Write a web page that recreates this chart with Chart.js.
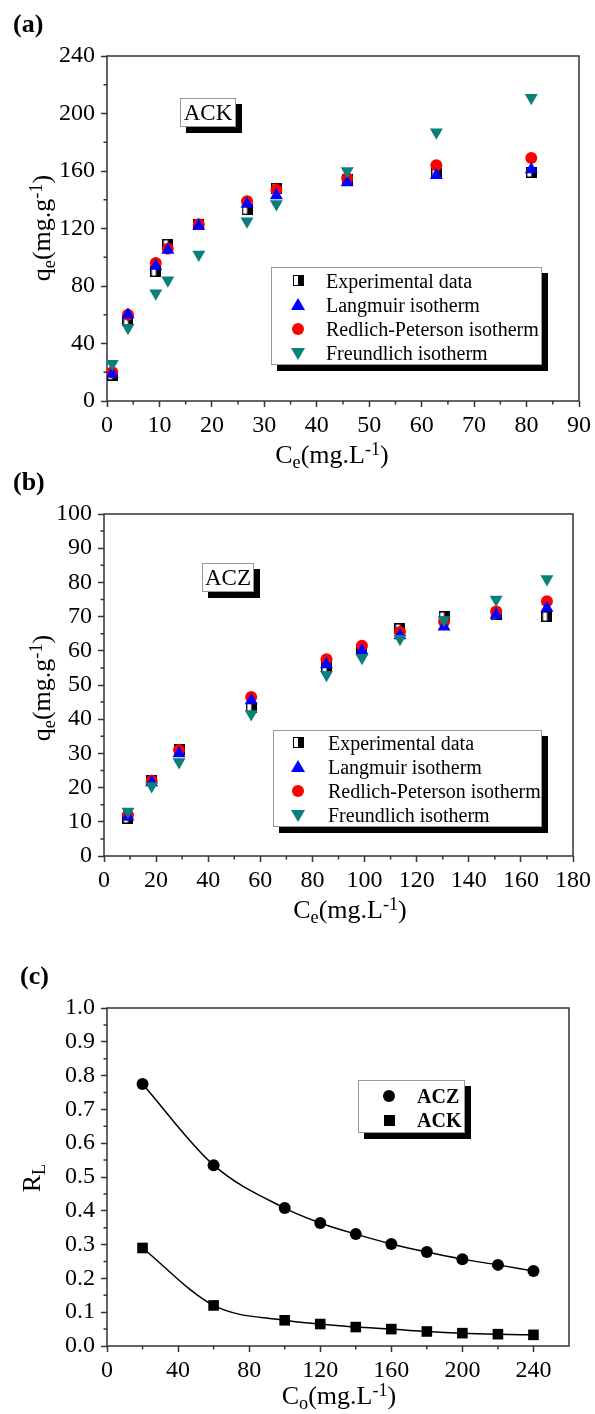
<!DOCTYPE html>
<html><head><meta charset="utf-8">
<script src="https://cdn.jsdelivr.net/npm/chart.js@4.4.0/dist/chart.umd.min.js"></script>
<style>
html,body{margin:0;padding:0;background:#fff;}
body{width:595px;height:1414px;position:relative;overflow:hidden;font-family:"Liberation Serif","Times New Roman",serif;color:#000;}
canvas{position:absolute;left:0;z-index:1;}
.t{position:absolute;white-space:nowrap;line-height:1;z-index:2;}
.plab{font-weight:bold;font-size:26px;}
.ttl{font-size:26px;}
.rot{transform:translate(-50%,-50%) rotate(-90deg);}
.hx{transform:translateX(-50%);}
.sb{font-size:0.7em;position:relative;top:0.3em;}
.sp{font-size:0.7em;position:relative;top:-0.45em;}
.box{position:absolute;background:#fff;border:1px solid #999;box-shadow:6px 6px 0 #000;z-index:2;box-sizing:border-box;}
.tag{font-size:23px;text-align:center;}
.leg{font-size:20px;}
.row{position:relative;height:24px;line-height:24px;white-space:nowrap;}
.mk{position:absolute;display:block;}
.m-sq{width:9px;height:9px;border:1px solid #000;background:linear-gradient(to right,#fff 50%,#000 50%);}
.m-up{width:0;height:0;border-left:7px solid transparent;border-right:7px solid transparent;border-bottom:12px solid #0000ff;}
.m-ci{width:12px;height:12px;border-radius:50%;background:#ff0000;}
.m-dn{width:0;height:0;border-left:7px solid transparent;border-right:7px solid transparent;border-top:12px solid #0b7f7b;}
.m-bci{width:12px;height:12px;border-radius:50%;background:#000;}
.m-bsq{width:11px;height:11px;background:#000;}
</style>
</head><body>
<canvas id="ca" width="595" height="470" style="top:0px"></canvas>
<canvas id="cb" width="595" height="470" style="top:470px"></canvas>
<canvas id="cc" width="595" height="474" style="top:940px"></canvas>

<div class="t plab" style="left:13px;top:11px;">(a)</div>
<div class="t plab" style="left:13px;top:469px;">(b)</div>
<div class="t plab" style="left:20px;top:963px;">(c)</div>

<div class="t ttl rot" style="left:42px;top:228px;">q<span class="sb">e</span>(mg.g<span class="sp">-1</span>)</div>
<div class="t ttl hx" style="left:332px;top:442px;">C<span class="sb">e</span>(mg.L<span class="sp">-1</span>)</div>
<div class="t ttl rot" style="left:42px;top:688px;">q<span class="sb">e</span>(mg.g<span class="sp">-1</span>)</div>
<div class="t ttl hx" style="left:350px;top:897px;">C<span class="sb">e</span>(mg.L<span class="sp">-1</span>)</div>
<div class="t ttl rot" style="left:32px;top:1178px;">R<span class="sb">L</span></div>
<div class="t ttl hx" style="left:339px;top:1383px;">C<span class="sb">o</span>(mg.L<span class="sp">-1</span>)</div>

<div class="box tag" style="left:180px;top:98px;width:56px;height:29px;line-height:28px;">ACK</div>
<div class="box tag" style="left:202px;top:563px;width:52px;height:29px;line-height:28px;">ACZ</div>

<div class="box leg" style="left:271px;top:267px;width:271px;height:98px;padding-top:1px;">
  <div class="row" style="padding-left:54px;"><span class="mk m-sq" style="left:21px;top:6px;"></span>Experimental data</div>
  <div class="row" style="padding-left:54px;"><span class="mk m-up" style="left:19px;top:5px;"></span>Langmuir isotherm</div>
  <div class="row" style="padding-left:54px;"><span class="mk m-ci" style="left:20px;top:6px;"></span>Redlich-Peterson isotherm</div>
  <div class="row" style="padding-left:54px;"><span class="mk m-dn" style="left:19px;top:7px;"></span>Freundlich isotherm</div>
</div>
<div class="box leg" style="left:273px;top:730px;width:269px;height:97px;padding-top:0px;">
  <div class="row" style="padding-left:54px;"><span class="mk m-sq" style="left:19px;top:6px;"></span>Experimental data</div>
  <div class="row" style="padding-left:54px;"><span class="mk m-up" style="left:17px;top:5px;"></span>Langmuir isotherm</div>
  <div class="row" style="padding-left:54px;"><span class="mk m-ci" style="left:18px;top:6px;"></span>Redlich-Peterson isotherm</div>
  <div class="row" style="padding-left:54px;"><span class="mk m-dn" style="left:17px;top:7px;"></span>Freundlich isotherm</div>
</div>
<div class="box leg" style="left:358px;top:1080px;width:107px;height:53px;padding-top:3px;font-weight:bold;">
  <div class="row" style="padding-left:58px;"><span class="mk m-bci" style="left:24px;top:6px;"></span>ACZ</div>
  <div class="row" style="padding-left:58px;"><span class="mk m-bsq" style="left:25px;top:7px;"></span>ACK</div>
</div>

<script>
// ---- Data: panel (a) ACK ----
const ceACK   = [1.0, 4.0, 9.3, 11.6, 17.5, 26.7, 32.3, 45.8, 62.8, 80.9];
const expACK  = [18, 56, 90, 109, 123, 133, 148, 154, 158, 159];
const langACK = [19, 60, 94, 105, 122, 137, 143, 152, 157, 161];
const rpACK   = [20, 60, 96, 106, 123, 139, 147, 155, 164, 169];
const frACK   = [26, 51, 75, 84, 102, 125, 137, 160, 187, 211];
// ---- Data: panel (b) ACZ ----
const ceACZ   = [9.2, 18.3, 28.8, 56.5, 85.4, 99, 113.6, 130.5, 150.5, 170];
const expACZ  = [11, 22, 31, 43.5, 55, 60.5, 66.5, 70, 70.5, 70];
const langACZ = [11.5, 21.5, 30, 45.5, 56, 60, 64.5, 67, 70.5, 72.5];
const rpACZ   = [12, 22, 31, 46.5, 57.5, 61.5, 65.5, 68.5, 71.5, 74.5];
const frACZ   = [13, 20.5, 27.5, 41.5, 53, 58, 63.5, 69, 75, 81];
// ---- Data: panel (c) RL ----
const co     = [20, 60, 100, 120, 140, 160, 180, 200, 220, 240];
const rlACZ  = [0.775, 0.535, 0.408, 0.364, 0.331, 0.302, 0.278, 0.257, 0.240, 0.222];
const rlACK  = [0.290, 0.120, 0.076, 0.065, 0.056, 0.050, 0.043, 0.038, 0.035, 0.033];
// ---- Series names ----
const seriesNames = ['Experimental data', 'Langmuir isotherm', 'Redlich-Peterson isotherm', 'Freundlich isotherm'];
const rlNames = ['ACZ', 'ACK'];

const zip = (xs, ys) => xs.map((x, i) => ({x, y: ys[i]}));
const FONT = '"Liberation Serif", "Times New Roman", serif';
const AX = '#333';

function halfSquare(size){
  const c = document.createElement('canvas'); c.width = size; c.height = size;
  const g = c.getContext('2d');
  g.fillStyle = '#fff'; g.fillRect(0, 0, size, size);
  g.fillStyle = '#000'; g.fillRect(size/2, 0, size/2, size);
  g.strokeStyle = '#000'; g.lineWidth = 1.5; g.strokeRect(0.75, 0.75, size-1.5, size-1.5);
  return c;
}
const HS = halfSquare(11);

const frameMinor = {
  id: 'frameMinor',
  beforeDatasetsDraw(chart, args, o){
    const {ctx, chartArea: a, scales: {x, y}} = chart;
    ctx.save();
    ctx.strokeStyle = AX; ctx.lineWidth = 1.5;
    ctx.strokeRect(a.left, a.top, a.right - a.left, a.bottom - a.top);
    ctx.beginPath();
    for (let k = 0; x.min + o.xMinor*(2*k+1) < x.max - 1e-9; k++){
      const px = x.getPixelForValue(x.min + o.xMinor*(2*k+1));
      ctx.moveTo(px, a.bottom); ctx.lineTo(px, a.bottom + 3.5);
    }
    for (let k = 0; y.min + o.yMinor*(2*k+1) < y.max - 1e-9; k++){
      const py = y.getPixelForValue(y.min + o.yMinor*(2*k+1));
      ctx.moveTo(a.left, py); ctx.lineTo(a.left - 3.5, py);
    }
    ctx.stroke();
    ctx.restore();
  }
};

function axis(min, max, step, fixed, isX, cb, incB){
  return {
    type: 'linear', min, max,
    border: {display: false},
    grid: {display: true, drawOnChartArea: false, drawTicks: true, tickLength: 6, tickColor: AX, tickWidth: 1.5},
    ticks: {stepSize: step, autoSkip: false, maxRotation: 0, color: '#000',
            font: {family: FONT, size: 24}, padding: isX ? 4 : 6,
            includeBounds: incB !== false,
            callback: cb || (v => String(v))},
    afterFit(s){
      if (isX){ s.height = fixed; s.paddingLeft = 0; s.paddingRight = 0; }
      else { s.width = fixed; s.paddingTop = 0; s.paddingBottom = 0; }
    }
  };
}

function isoDatasets(ce, e, l, r, f){
  return [
    {label: seriesNames[0], data: zip(ce, e), pointStyle: HS, pointRadius: 6, order: 4},
    {label: seriesNames[1], data: zip(ce, l), pointStyle: 'triangle', pointRadius: 7.5,
     backgroundColor: '#0000ff', borderColor: '#0000ff', borderWidth: 0, order: 2},
    {label: seriesNames[2], data: zip(ce, r), pointStyle: 'circle', pointRadius: 6,
     backgroundColor: '#ff0000', borderColor: '#ff0000', borderWidth: 0, order: 3},
    {label: seriesNames[3], data: zip(ce, f), pointStyle: 'triangle', pointRotation: 180, pointRadius: 7.5,
     backgroundColor: '#0b7f7b', borderColor: '#0b7f7b', borderWidth: 0, order: 1}
  ];
}

function make(id, datasets, pad, xs, ys, minor){
  return new Chart(document.getElementById(id), {
    type: 'scatter',
    data: {datasets},
    options: {
      responsive: false, maintainAspectRatio: false, animation: false, events: [],
      layout: {padding: pad},
      plugins: {legend: {display: false}, tooltip: {enabled: false}, frameMinor: minor},
      scales: {x: xs, y: ys}
    },
    plugins: [frameMinor]
  });
}

make('ca', isoDatasets(ceACK, expACK, langACK, rpACK, frACK),
  {top: 56, left: 0, right: 16, bottom: 0},
  axis(0, 90, 10, 69, true), axis(0, 240, 40, 107, false), {xMinor: 5, yMinor: 20});

make('cb', isoDatasets(ceACZ, expACZ, langACZ, rpACZ, frACZ),
  {top: 44, left: 0, right: 22, bottom: 0},
  axis(0, 180, 20, 84, true), axis(0, 100, 10, 104, false), {xMinor: 10, yMinor: 5});

make('cc', [
    {label: rlNames[0], data: zip(co, rlACZ), showLine: true, cubicInterpolationMode: 'monotone',
     borderColor: '#000', borderWidth: 1.5, pointStyle: 'circle', pointRadius: 6,
     backgroundColor: '#000', pointBorderWidth: 0},
    {label: rlNames[1], data: zip(co, rlACK), showLine: true, cubicInterpolationMode: 'monotone',
     borderColor: '#000', borderWidth: 1.5, pointStyle: 'rect', pointRadius: 7.5,
     backgroundColor: '#000', pointBorderWidth: 0}
  ],
  {top: 68, left: 0, right: 26, bottom: 0},
  axis(0, 260, 40, 68, true, null, false), axis(0, 1, 0.1, 107, false, v => v.toFixed(1)),
  {xMinor: 20, yMinor: 0.05});
</script>
</body></html>
